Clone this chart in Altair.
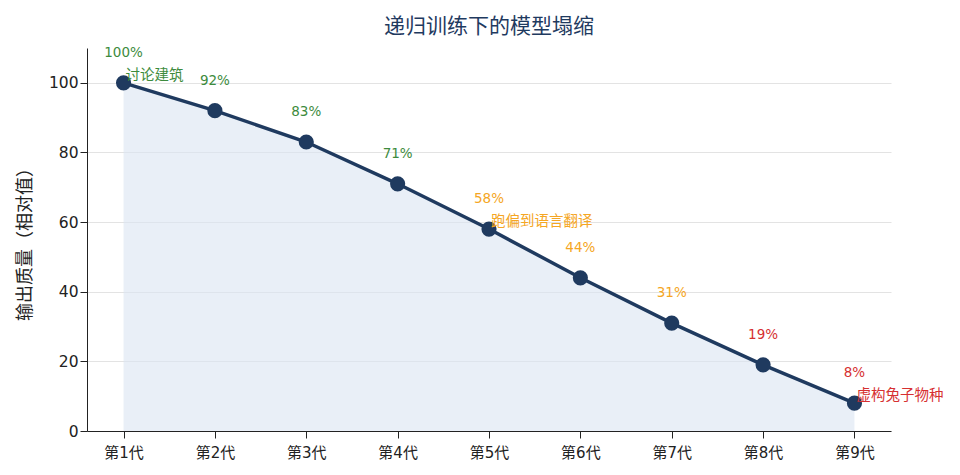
import altair as alt
import pandas as pd

gens = ["第1代", "第2代", "第3代", "第4代", "第5代", "第6代", "第7代", "第8代", "第9代"]
quality = [100, 92, 83, 71, 58, 44, 31, 19, 8]
label_colors = ["#3d8b3d", "#3d8b3d", "#3d8b3d", "#3d8b3d", "#f5a623", "#f5a623", "#f5a623", "#d63031", "#d63031"]
notes = ["讨论建筑", "", "", "", "跑偏到语言翻译", "", "", "", "虚构兔子物种"]

df = pd.DataFrame({
    "gen": gens,
    "q": quality,
    "pct": [f"{v}%" for v in quality],
    "color": label_colors,
    "note": notes,
})

FONT = "DejaVu Sans, Noto Sans CJK SC"
CJK = "Noto Sans CJK SC"
xenc = alt.X("gen:O", sort=gens, title=None,
             scale=alt.Scale(type="point", padding=0.4),
             axis=alt.Axis(labelAngle=0, labelFontSize=15, labelColor="#222",
                           domainColor="#222", tickColor="#222", tickSize=7,
                           labelPadding=7, grid=False, labelFont=FONT))
yenc = alt.Y("q:Q", title="输出质量（相对值）",
             scale=alt.Scale(domain=[0, 110], nice=False),
             axis=alt.Axis(values=[0, 20, 40, 60, 80, 100], labelFontSize=15.5, labelColor="#222",
                           domainColor="#222", tickColor="#222", tickSize=7,
                           gridColor="#e3e3e3", titleFontSize=18, titleFontWeight="normal",
                           titleColor="#222", titlePadding=14, labelFont=FONT, titleFont=CJK))

base = alt.Chart(df)
area = base.mark_area(color="#dbe5f1", opacity=0.6).encode(x=xenc, y=yenc)
line = base.mark_line(color="#1f3a5f", strokeWidth=3.5).encode(x=xenc, y=yenc)
pts = base.mark_circle(color="#1f3a5f", size=230, opacity=1).encode(x=xenc, y=yenc)
pct = base.mark_text(dy=-30, fontSize=13.5, font=FONT).encode(
    x=xenc, y=yenc, text="pct:N", color=alt.Color("color:N", scale=None))
note = base.transform_filter("datum.note != ''").mark_text(
    align="left", dx=2, dy=-7, fontSize=14.5, font=CJK).encode(
    x=xenc, y=yenc, text="note:N", color=alt.Color("color:N", scale=None))

chart = alt.layer(area, line, pts, pct, note).properties(
    width=804, height=383,
    padding={"left": 8, "top": 7, "right": 5, "bottom": 5},
    background="white",
    title=alt.Title("递归训练下的模型塌缩", fontSize=21, font=CJK, color="#1f3a5f",
                    fontWeight="normal", offset=12, dy=3),
).configure_view(stroke=None)

chart.save("out.html", embed_options={"renderer": "svg", "actions": False})
